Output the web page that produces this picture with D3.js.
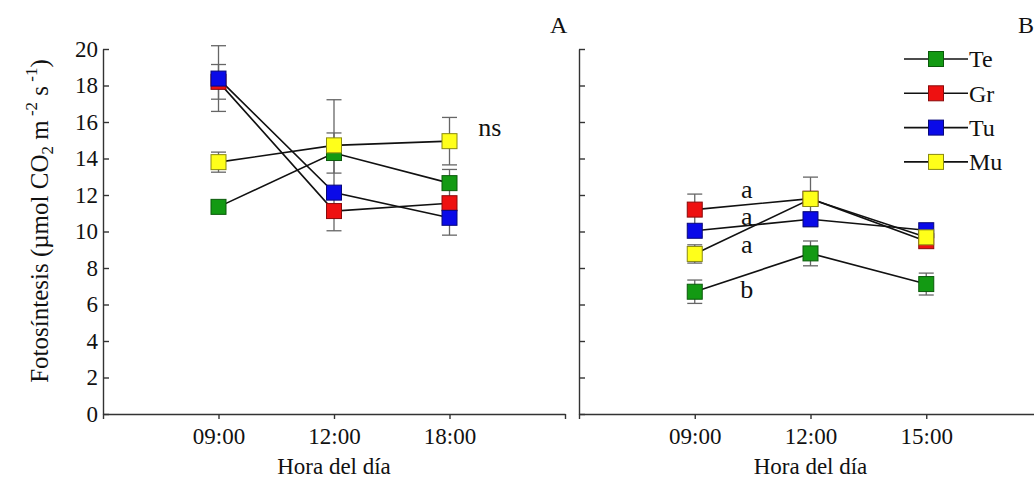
<!DOCTYPE html>
<meta charset="utf-8">
<style>
  body { margin: 0; background: #fff; }
  text { font-family: "Liberation Serif", "Times New Roman", serif; fill: #111; }
</style>
<svg id="chart" width="1034" height="481"></svg>
<script src="https://d3js.org/d3.v7.min.js"></script>
<script>

// categories
var seriesNames = ["Te", "Gr", "Tu", "Mu"];
var seriesColors = ["#139a13", "#ee1111", "#0a0ae8", "#ffff1a"];
var seriesStrokes = ["#0b5a0b", "#8a0a0a", "#08087a", "#8a8a10"];
var timesA = ["09:00", "12:00", "18:00"];
var timesB = ["09:00", "12:00", "15:00"];
var yTicks = [0, 2, 4, 6, 8, 10, 12, 14, 16, 18, 20];

// panel A: means and errors (Te, Gr, Tu, Mu)
var meanA_Te = [11.35, 14.3, 12.65];
var meanA_Gr = [18.2, 11.12, 11.55];
var meanA_Tu = [18.38, 12.13, 10.75];
var meanA_Mu = [13.8, 14.72, 14.95];
var errA_Te = [0.2, 1.1, 0.75];
var errA_Gr = [0.95, 1.08, 0.3];
var errA_Tu = [1.8, 0.3, 0.95];
var errA_Mu = [0.55, 2.5, 1.3];

// panel B
var meanB_Te = [6.7, 8.8, 7.12];
var meanB_Gr = [11.2, 11.8, 9.47];
var meanB_Tu = [10.04, 10.67, 10.07];
var meanB_Mu = [8.77, 11.78, 9.68];
var errB_Te = [0.64, 0.68, 0.6];
var errB_Gr = [0.85, 0.3, 0.2];
var errB_Tu = [0.3, 0.4, 0.2];
var errB_Mu = [0.5, 1.2, 0.2];

// significance letters: [x position (category units), y value, text]
var lettersA = [[3.35, 15.67, "ns"]];
var lettersB = [[1.45, 12.27, "a"], [1.45, 10.8, "a"], [1.45, 9.26, "a"], [1.45, 6.8, "b"]];

var svg = d3.select("#chart");
var plotTop = 49, plotBottom = 414;
var boxSize = 15;

var y = d3.scaleLinear().domain([0, 20]).range([plotBottom, plotTop]);

function panel(left, right, times, means, errs, letters, showLabels) {
  var x = d3.scaleLinear().domain([0, 4]).range([left, right]);
  var g = svg.append("g");

  // x axis, ticks pointing down
  g.append("g")
      .attr("transform", "translate(0," + plotBottom + ")")
      .call(d3.axisBottom(x).tickValues([0, 1, 2, 3, 4]).tickSizeInner(5).tickSizeOuter(0)
        .tickFormat(function(d) { return d >= 1 && d <= 3 ? times[d - 1] : ""; }).tickPadding(9))
      .call(function(a) {
        a.selectAll("path, line").attr("stroke", "#333").attr("stroke-width", 1.4);
        a.selectAll("text").attr("font-size", 23).attr("font-family", "Liberation Serif").attr("fill", "#111");
      });

  // y axis, ticks inward
  g.append("g")
      .attr("transform", "translate(" + left + ",0)")
      .call(d3.axisLeft(y).tickValues(yTicks).tickSizeInner(-6).tickSizeOuter(0).tickPadding(5)
        .tickFormat(showLabels ? d3.format("d") : function() { return ""; }))
      .call(function(a) {
        a.selectAll("path, line").attr("stroke", "#333").attr("stroke-width", 1.4);
        a.selectAll("text").attr("font-size", 23).attr("font-family", "Liberation Serif").attr("fill", "#111");
      });

  g.append("text")
      .attr("x", x(2))
      .attr("y", 474)
      .attr("text-anchor", "middle")
      .attr("font-size", 23)
      .text("Hora del día");

  var line = d3.line()
      .x(function(d, i) { return x(i + 1); })
      .y(function(d) { return y(d); });

  // error bars
  means.forEach(function(m, s) {
    m.forEach(function(v, i) {
      var e = errs[s][i], cx = x(i + 1);
      var eb = g.append("g").attr("stroke", "#666").attr("stroke-width", 1.3);
      eb.append("line").attr("x1", cx).attr("x2", cx).attr("y1", y(v - e)).attr("y2", y(v + e));
      [v - e, v + e].forEach(function(c) {
        eb.append("line").attr("x1", cx - 7.5).attr("x2", cx + 7.5).attr("y1", y(c)).attr("y2", y(c));
      });
    });
  });

  // lines
  means.forEach(function(m) {
    g.append("path")
        .datum(m)
        .attr("fill", "none")
        .attr("stroke", "#111")
        .attr("stroke-width", 1.6)
        .attr("d", line);
  });

  // markers
  means.forEach(function(m, s) {
    g.selectAll(null)
        .data(m)
        .enter().append("rect")
        .attr("x", function(d, i) { return x(i + 1) - boxSize / 2; })
        .attr("y", function(d) { return y(d) - boxSize / 2; })
        .attr("width", boxSize)
        .attr("height", boxSize)
        .attr("fill", seriesColors[s])
        .attr("stroke", seriesStrokes[s])
        .attr("stroke-width", 1);
  });

  letters.forEach(function(l) {
    g.append("text")
        .attr("x", x(l[0]))
        .attr("y", y(l[1]))
        .attr("dy", "0.32em")
        .attr("text-anchor", "middle")
        .attr("font-size", 26)
        .text(l[2]);
  });

  return x;
}

panel(103, 565, timesA, [meanA_Te, meanA_Gr, meanA_Tu, meanA_Mu],
      [errA_Te, errA_Gr, errA_Tu, errA_Mu], lettersA, true);
panel(579, 1042, timesB, [meanB_Te, meanB_Gr, meanB_Tu, meanB_Mu],
      [errB_Te, errB_Gr, errB_Tu, errB_Mu], lettersB, false);

// panel letters
svg.append("text").attr("x", 550).attr("y", 33).attr("font-size", 24).text("A");
svg.append("text").attr("x", 1018).attr("y", 33).attr("font-size", 24).text("B");

// y title
var title = svg.append("text")
    .attr("transform", "translate(48,221) rotate(-90)")
    .attr("text-anchor", "middle")
    .attr("font-size", 25);
title.append("tspan").text("Fotosíntesis (µmol CO");
title.append("tspan").attr("font-size", 17).attr("dy", 5).text("2");
title.append("tspan").attr("dy", -5).text(" m");
title.append("tspan").attr("font-size", 17).attr("dy", -11).text(" -2");
title.append("tspan").attr("dy", 11).text(" s");
title.append("tspan").attr("font-size", 17).attr("dy", -11).text(" -1");
title.append("tspan").attr("dy", 11).text(")");

// legend
var legend = svg.append("g");
seriesNames.forEach(function(name, i) {
  var ly = 59 + i * 34.3;
  legend.append("line").attr("x1", 904).attr("x2", 968).attr("y1", ly).attr("y2", ly)
      .attr("stroke", "#111").attr("stroke-width", 1.6);
  legend.append("rect").attr("x", 936 - boxSize / 2).attr("y", ly - boxSize / 2)
      .attr("width", boxSize).attr("height", boxSize)
      .attr("fill", seriesColors[i]).attr("stroke", seriesStrokes[i]);
  legend.append("text").attr("x", 969).attr("y", ly).attr("dy", "0.35em")
      .attr("font-size", 24).text(name);
});
</script>
